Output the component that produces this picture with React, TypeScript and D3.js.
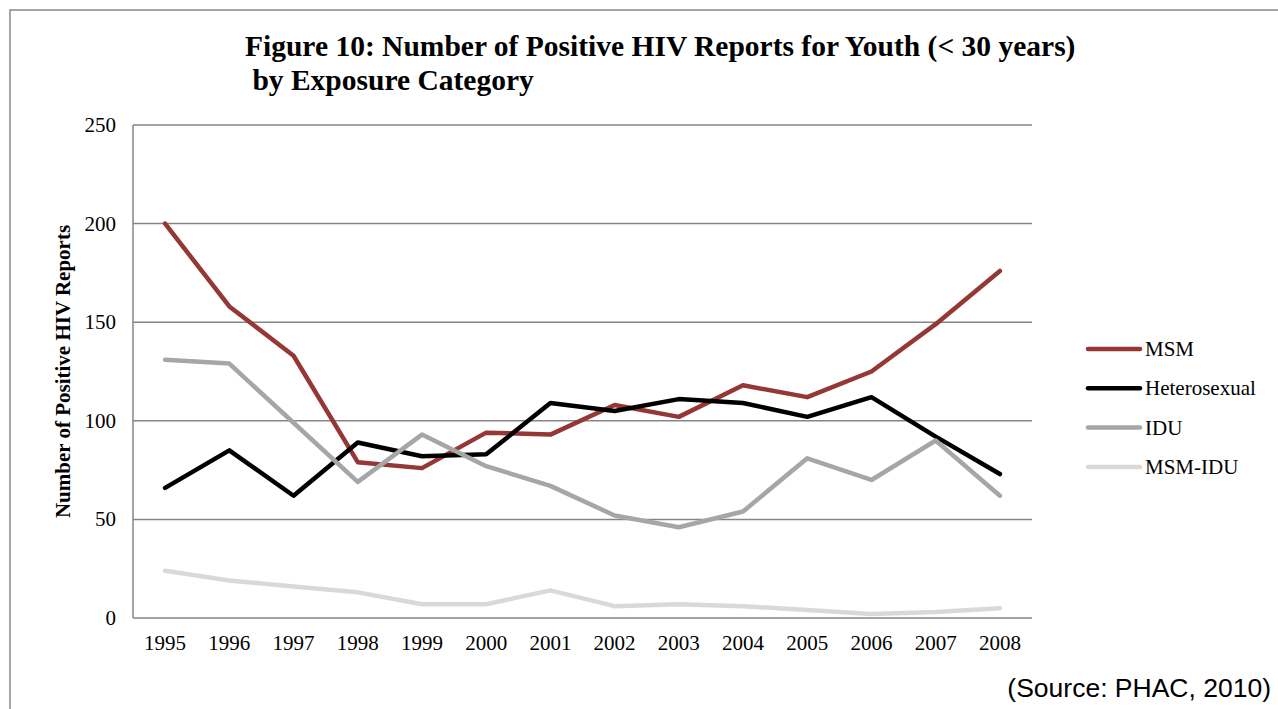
import React, { useEffect, useRef } from 'react';
import * as d3 from 'd3';

const W = 1278;
const H = 709;

const years = ['1995', '1996', '1997', '1998', '1999', '2000', '2001', '2002', '2003', '2004', '2005', '2006', '2007', '2008'];
const yTicks = [0, 50, 100, 150, 200, 250];

const msm = [200, 158, 133, 79, 76, 94, 93, 108, 102, 118, 112, 125, 149, 176];
const hetero = [66, 85, 62, 89, 82, 83, 109, 105, 111, 109, 102, 112, 92, 73];
const idu = [131, 129, 99, 69, 93, 77, 67, 52, 46, 54, 81, 70, 90, 62];
const msmIdu = [24, 19, 16, 13, 7, 7, 14, 6, 7, 6, 4, 2, 3, 5];

const seriesNames = ['MSM', 'Heterosexual', 'IDU', 'MSM-IDU'];
const seriesColors = ['#953735', '#000000', '#a6a6a6', '#d9d9d9'];

const serif = '"Liberation Serif", "Times New Roman", serif';

export default function App() {
  const ref = useRef<SVGSVGElement>(null);

  useEffect(() => {
    const svg = d3.select(ref.current);
    svg.selectAll('*').remove();

    const left = 133, right = 1032, top = 125, bottom = 618;
    const x = d3.scalePoint().domain(years).range([left, right]).padding(0.5);
    const y = d3.scaleLinear().domain([0, 250]).range([bottom, top]);

    // outer frame
    svg.append('rect')
      .attr('x', 10).attr('y', 10)
      .attr('width', 1400).attr('height', 900)
      .attr('fill', 'none').attr('stroke', '#888').attr('stroke-width', 1.5);

    // title
    const title = svg.append('text')
      .attr('font-family', serif).attr('font-weight', 'bold')
      .attr('font-size', 29.5).attr('fill', '#000');
    title.append('tspan').attr('x', 245).attr('y', 56)
      .text('Figure 10: Number of Positive HIV Reports for Youth (< 30 years)');
    title.append('tspan').attr('x', 245).attr('y', 90)
      .text('\u00a0by Exposure Category');

    // gridlines
    svg.append('g').selectAll('line')
      .data(yTicks.filter(d => d > 0))
      .enter().append('line')
      .attr('x1', left).attr('x2', right)
      .attr('y1', d => y(d)).attr('y2', d => y(d))
      .attr('stroke', '#868686').attr('stroke-width', 1.5);

    // axes lines
    svg.append('line')
      .attr('x1', left).attr('x2', left).attr('y1', top).attr('y2', bottom)
      .attr('stroke', '#868686').attr('stroke-width', 1.5);
    svg.append('line')
      .attr('x1', left).attr('x2', right).attr('y1', bottom).attr('y2', bottom)
      .attr('stroke', '#868686').attr('stroke-width', 1.5);

    // y tick labels
    svg.append('g').selectAll('text')
      .data(yTicks)
      .enter().append('text')
      .attr('x', 116).attr('y', d => y(d) + 7)
      .attr('text-anchor', 'end')
      .attr('font-family', serif).attr('font-size', 21)
      .text(d => d);

    // x tick labels
    svg.append('g').selectAll('text')
      .data(years)
      .enter().append('text')
      .attr('x', d => x(d)!).attr('y', 650)
      .attr('text-anchor', 'middle')
      .attr('font-family', serif).attr('font-size', 21)
      .text(d => d);

    // y axis title
    svg.append('text')
      .attr('transform', `translate(70, ${(top + bottom) / 2}) rotate(-90)`)
      .attr('text-anchor', 'middle')
      .attr('font-family', serif).attr('font-weight', 'bold').attr('font-size', 21)
      .text('Number of Positive HIV Reports');

    const allSeries = [msm, hetero, idu, msmIdu];
    const line = d3.line<number>()
      .x((_, i) => x(years[i])!)
      .y(d => y(d));

    allSeries.forEach((s, i) => {
      svg.append('path')
        .datum(s)
        .attr('d', line)
        .attr('fill', 'none')
        .attr('stroke', seriesColors[i])
        .attr('stroke-width', 4.5)
        .attr('stroke-linejoin', 'round')
        .attr('stroke-linecap', 'round');
    });

    // legend
    const lg = svg.append('g');
    seriesNames.forEach((name, i) => {
      const ly = 349 + i * 39.3;
      lg.append('line')
        .attr('x1', 1088).attr('x2', 1140)
        .attr('y1', ly).attr('y2', ly)
        .attr('stroke', seriesColors[i]).attr('stroke-width', 4.5)
        .attr('stroke-linecap', 'round');
      lg.append('text')
        .attr('x', 1145).attr('y', ly + 7)
        .attr('font-family', serif).attr('font-size', 21)
        .text(name);
    });

    // source note
    svg.append('text')
      .attr('x', 1271).attr('y', 697)
      .attr('text-anchor', 'end')
      .attr('font-family', '"Liberation Sans", Arial, sans-serif')
      .attr('font-size', 26.5)
      .text('(Source: PHAC, 2010)');
  }, []);

  return (
    <svg
      ref={ref}
      width={W}
      height={H}
      style={{ position: 'fixed', left: 0, top: 0, background: '#fff' }}
    />
  );
}
